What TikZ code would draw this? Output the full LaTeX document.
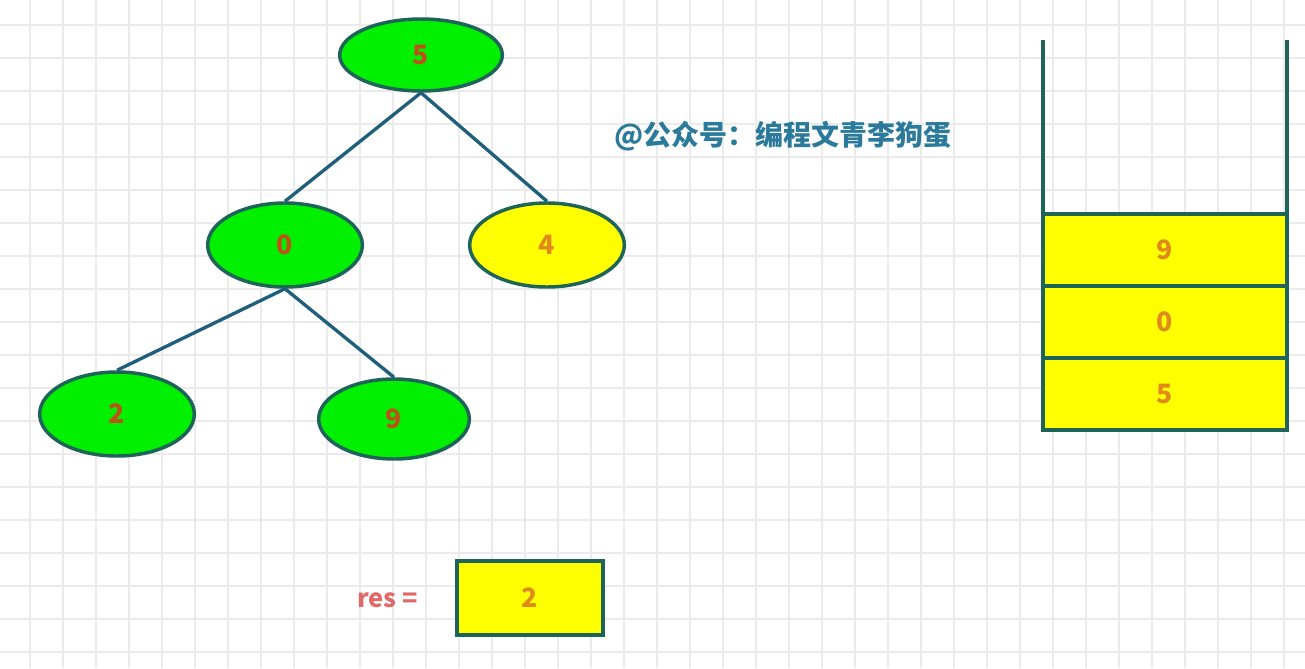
\documentclass[tikz,border=0pt]{standalone}
\usepackage{fontspec}
\newfontfamily\cjk{Noto Sans CJK SC}
\usetikzlibrary{shapes.geometric,positioning}
\definecolor{gridgray}{HTML}{EBEBEB}
\definecolor{edgeblue}{HTML}{1F5F7C}
\definecolor{rimteal}{HTML}{1E6458}
\definecolor{leafgreen}{HTML}{00F000}
\definecolor{boxyellow}{HTML}{FFFF00}
\definecolor{numred}{HTML}{C0501A}
\definecolor{numorange}{HTML}{E08A1C}
\definecolor{markblue}{HTML}{2B7A9B}
\definecolor{respink}{HTML}{E06A6A}
\tikzset{
  treenode/.style={ellipse,draw=rimteal,line width=2.6pt,fill=leafgreen,
    minimum width=116pt,minimum height=63pt,inner sep=0pt,
    font=\cjk\bfseries\fontsize{20}{20}\selectfont,text=numred},
  doneleaf/.style={treenode,fill=boxyellow,text=numorange},
  stackbox/.style={rectangle,draw=rimteal,line width=3pt,fill=boxyellow,
    minimum width=183pt,minimum height=54pt,inner sep=0pt,outer sep=0pt,
    font=\cjk\bfseries\fontsize{20}{20}\selectfont,text=numorange},
  treeedge/.style={draw=edgeblue,line width=2.5pt},
}
\begin{document}
\begin{tikzpicture}[x=0.75pt,y=-0.75pt]
\useasboundingbox (0,0) rectangle (1305,668);
\fill[white] (0,0) rectangle (1305,668);
% background grid
\foreach \gx in {30,63,...,1305}
  \draw[gridgray,line width=0.8pt] (\gx,0) -- (\gx,668);
\foreach \gy in {25,58,...,668}
  \draw[gridgray,line width=0.8pt] (0,\gy) -- (1305,\gy);

% tree
\node[treenode,minimum width=122pt,minimum height=54pt] (n5) at (421,55) {5};
\node[treenode] (n0) at (285,245) {0};
\node[doneleaf] (n4) at (547,245) {4};
\node[treenode] (n2) at (117,414) {2};
\node[treenode,minimum width=113pt,minimum height=60pt] (n9) at (394,419) {9};
\draw[treeedge] (n5.south) -- (n0.north);
\draw[treeedge] (n5.south) -- (n4.north);
\draw[treeedge] (n0.south) -- (n2.north);
\draw[treeedge] (n0.south) -- (n9.north);

\node[text=markblue,font=\cjk\bfseries\fontsize{21}{21}\selectfont] (mark) at (783,136) {@公众号：编程文青李狗蛋};

% stack
\node[stackbox] (s9) at (1165,250) {9};
\node[stackbox,below=0pt of s9] (s0) {0};
\node[stackbox,below=0pt of s0] (s5) {5};
\coordinate (wallL) at (1043,40);
\coordinate (wallR) at (1287,40);
\draw[rimteal,line width=3pt] (wallL) -- (s9.north west);
\draw[rimteal,line width=3pt] (wallR) -- (s9.north east);

% result
\node[stackbox,minimum width=109pt,minimum height=55pt] (res) at (530,598) {2};
\node[text=respink,font=\cjk\bfseries\fontsize{19}{19}\selectfont,left=26pt of res,yshift=-2pt] (reslabel) {res =};
\end{tikzpicture}
\end{document}
